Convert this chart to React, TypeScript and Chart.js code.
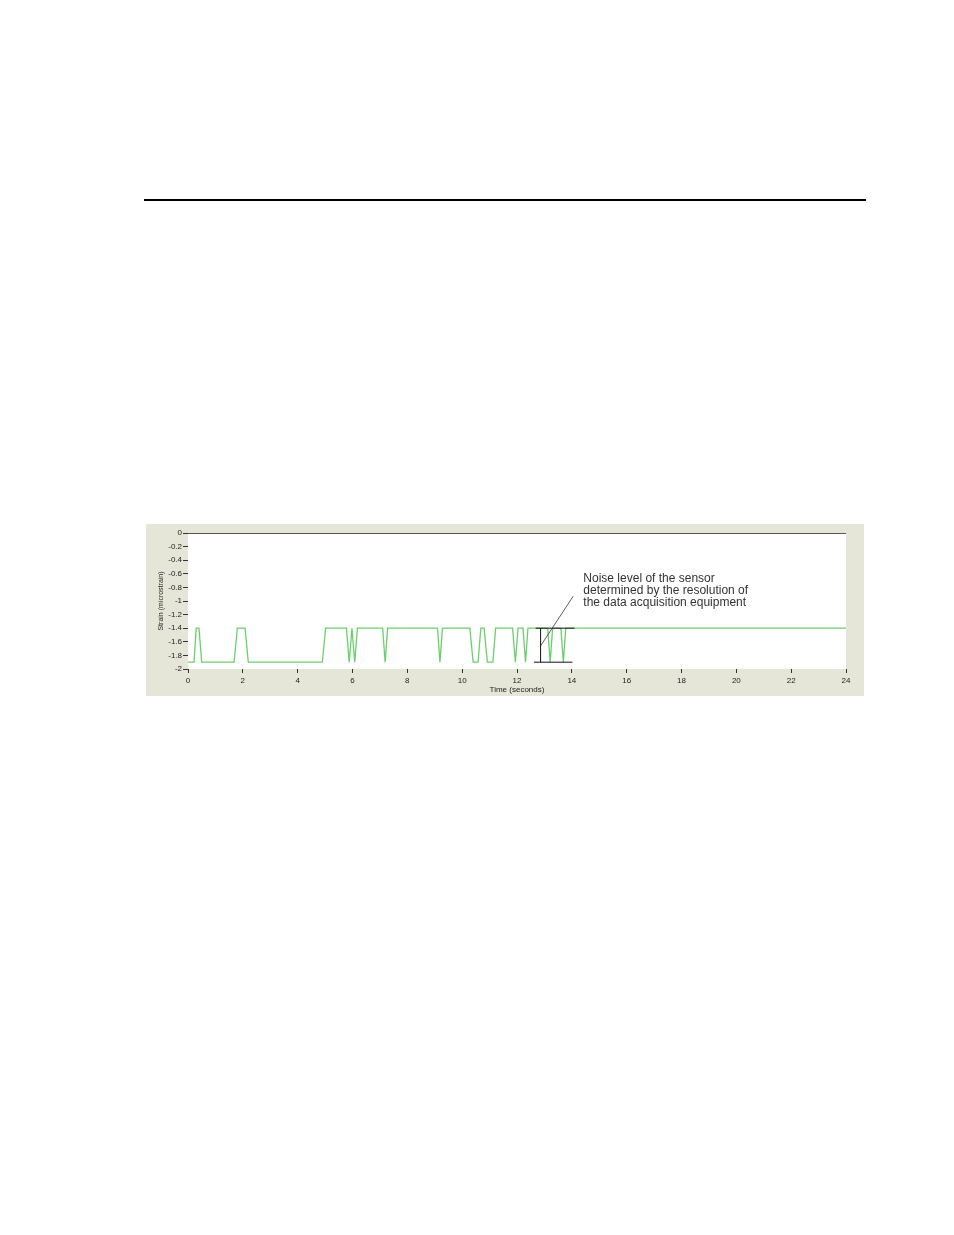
import { useEffect, useRef } from "react";
import Chart from "chart.js/auto";

// strain signal (time in s, strain in microstrain)
const timeValues = [
  0, 0.22, 0.3, 0.4, 0.5, 1.68, 1.8, 2.08, 2.2, 4.9, 5.02, 5.78, 5.88, 5.98,
  6.08, 6.18, 7.1, 7.19, 7.28, 9.1, 9.19, 9.28, 10.28, 10.4, 10.58, 10.68,
  10.8, 10.92, 11.12, 11.22, 11.84, 11.94, 12.04, 12.22, 12.31, 12.4, 13.12,
  13.21, 13.3, 13.6, 13.69, 13.78, 24,
];
const strainValues = [
  -1.9, -1.9, -1.4, -1.4, -1.9, -1.9, -1.4, -1.4, -1.9, -1.9, -1.4, -1.4,
  -1.9, -1.4, -1.9, -1.4, -1.4, -1.9, -1.4, -1.4, -1.9, -1.4, -1.4, -1.9,
  -1.9, -1.4, -1.4, -1.9, -1.9, -1.4, -1.4, -1.9, -1.4, -1.4, -1.9, -1.4,
  -1.4, -1.9, -1.4, -1.4, -1.9, -1.4, -1.4,
];

const xTicks = [0, 2, 4, 6, 8, 10, 12, 14, 16, 18, 20, 22, 24];
const yTicks = [0, -0.2, -0.4, -0.6, -0.8, -1, -1.2, -1.4, -1.6, -1.8, -2];

// noise bracket + pointer, in data units
const bracketTop = [12.68, 14.1, -1.4];
const bracketBottom = [12.62, 14.02, -1.9];
const bracketStem = [12.86, -1.4, -1.9];
const pointerLine = [12.86, -1.66, 14.05, -0.93];
const noteLines = [
  "Noise level of the sensor",
  "determined by the resolution of",
  "the data acquisition equipment",
];
const noteX = 14.42;
const noteY = [-0.67, -0.845, -1.02];

const fmt = (v: number) => String(Number(v.toFixed(1)));

const plotDeco = {
  id: "plotDeco",
  beforeDraw(chart: any) {
    const { ctx, chartArea } = chart;
    ctx.save();
    ctx.fillStyle = "#ffffff";
    ctx.fillRect(
      chartArea.left,
      chartArea.top,
      chartArea.right - chartArea.left,
      chartArea.bottom - chartArea.top
    );
    ctx.restore();
  },
  afterDraw(chart: any) {
    const { ctx, chartArea } = chart;
    const x = chart.scales.x;
    const y = chart.scales.y;
    ctx.save();
    ctx.strokeStyle = "#555555";
    ctx.lineWidth = 1;
    ctx.beginPath();
    ctx.moveTo(chartArea.left, Math.round(chartArea.top) + 0.5);
    ctx.lineTo(chartArea.right, Math.round(chartArea.top) + 0.5);
    ctx.stroke();

    ctx.strokeStyle = "#111111";
    ctx.beginPath();
    ctx.moveTo(x.getPixelForValue(bracketTop[0]), y.getPixelForValue(bracketTop[2]));
    ctx.lineTo(x.getPixelForValue(bracketTop[1]), y.getPixelForValue(bracketTop[2]));
    ctx.moveTo(x.getPixelForValue(bracketBottom[0]), y.getPixelForValue(bracketBottom[2]));
    ctx.lineTo(x.getPixelForValue(bracketBottom[1]), y.getPixelForValue(bracketBottom[2]));
    ctx.moveTo(x.getPixelForValue(bracketStem[0]), y.getPixelForValue(bracketStem[1]));
    ctx.lineTo(x.getPixelForValue(bracketStem[0]), y.getPixelForValue(bracketStem[2]));
    ctx.stroke();

    ctx.strokeStyle = "#333333";
    ctx.lineWidth = 0.8;
    ctx.beginPath();
    ctx.moveTo(x.getPixelForValue(pointerLine[0]), y.getPixelForValue(pointerLine[1]));
    ctx.lineTo(x.getPixelForValue(pointerLine[2]), y.getPixelForValue(pointerLine[3]));
    ctx.stroke();

    ctx.fillStyle = "#333333";
    ctx.font = "12px 'Liberation Sans', Arial, sans-serif";
    ctx.textAlign = "left";
    ctx.textBaseline = "middle";
    noteLines.forEach((t, i) => {
      ctx.fillText(t, x.getPixelForValue(noteX), y.getPixelForValue(noteY[i]));
    });
    ctx.restore();
  },
};

const StrainChart = () => {
  const canvasRef = useRef<HTMLCanvasElement>(null);

  useEffect(() => {
    if (!canvasRef.current) return;
    const ctx = canvasRef.current.getContext("2d");
    if (!ctx) return;

    const tickFont = { family: "'Liberation Sans', Arial, sans-serif", size: 8 };

    const chart = new Chart(ctx, {
      type: "line",
      data: {
        datasets: [
          {
            label: "Strain",
            data: timeValues.map((t, i) => ({ x: t, y: strainValues[i] })),
            borderColor: "#6ccf6c",
            borderWidth: 1.3,
            pointRadius: 0,
            tension: 0,
            fill: false,
          },
        ],
      },
      options: {
        animation: false,
        responsive: true,
        maintainAspectRatio: false,
        layout: { padding: { left: 0, right: 18, top: 9, bottom: 0 } },
        plugins: {
          legend: { display: false },
          tooltip: { enabled: false },
        },
        scales: {
          x: {
            type: "linear",
            min: 0,
            max: 24,
            afterBuildTicks: (scale: any) => {
              scale.ticks = xTicks.map((v) => ({ value: v }));
            },
            afterFit: (scale: any) => {
              scale.height = 27;
            },
            border: { display: false },
            grid: {
              drawOnChartArea: false,
              drawTicks: true,
              tickLength: 4,
              color: "#333333",
            },
            ticks: {
              font: tickFont,
              color: "#222222",
              padding: 3,
              maxRotation: 0,
              autoSkip: false,
              callback: (v: any) => fmt(Number(v)),
            },
            title: {
              display: true,
              text: "Time (seconds)",
              font: tickFont,
              color: "#222222",
              padding: { top: 0, bottom: 1 },
            },
          },
          y: {
            type: "linear",
            min: -2,
            max: 0,
            afterBuildTicks: (scale: any) => {
              scale.ticks = yTicks.map((v) => ({ value: v }));
            },
            afterFit: (scale: any) => {
              scale.width = 42;
            },
            border: { display: false },
            grid: {
              drawOnChartArea: false,
              drawTicks: true,
              tickLength: 5,
              color: "#333333",
            },
            ticks: {
              font: tickFont,
              color: "#222222",
              padding: 1,
              autoSkip: false,
              callback: (v: any) => fmt(Number(v)),
            },
            title: {
              display: true,
              text: "Strain (microstrain)",
              font: { family: "'Liberation Sans', Arial, sans-serif", size: 7 },
              color: "#222222",
              padding: { top: 11, bottom: 0 },
            },
          },
        },
      },
      plugins: [plotDeco],
    });

    return () => chart.destroy();
  }, []);

  return (
    <div
      style={{
        position: "absolute",
        left: 146,
        top: 524,
        width: 718,
        height: 172,
        background: "#e6e6d8",
      }}
    >
      <canvas ref={canvasRef}></canvas>
    </div>
  );
};

export default function App() {
  return (
    <div
      style={{
        position: "absolute",
        left: 0,
        top: 0,
        width: 954,
        height: 1235,
        background: "#ffffff",
      }}
    >
      <div
        style={{
          position: "absolute",
          left: 144,
          top: 199,
          width: 722,
          height: 2,
          background: "#000000",
        }}
      />
      <StrainChart />
    </div>
  );
}
